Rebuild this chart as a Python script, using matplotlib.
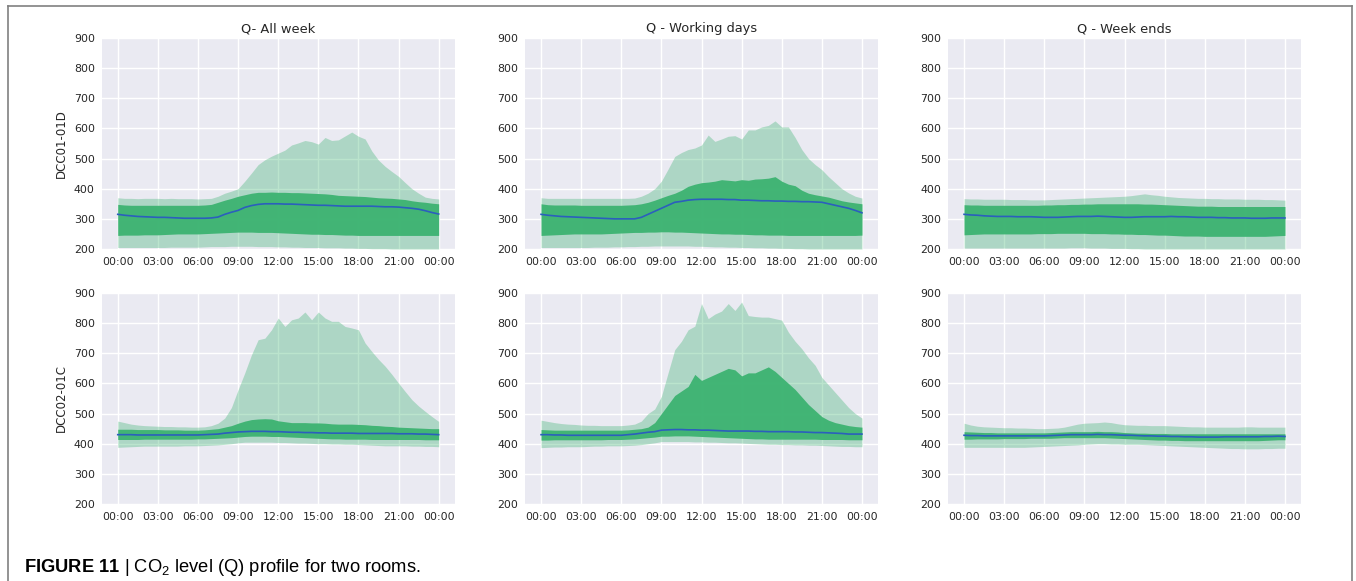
import numpy as np
import matplotlib
matplotlib.use("Agg")
import matplotlib.pyplot as plt
from matplotlib.lines import Line2D

# ---------------------------------------------------------------- data
# half-hourly time of day (hours), 00:00 .. 24:00
hours = np.arange(0, 24.01, 0.5)

rooms = ["DCC01-01D", "DCC02-01C"]
periods = ["Q- All week", "Q - Working days", "Q - Week ends"]
x_ticks = [0, 3, 6, 9, 12, 15, 18, 21, 24]
x_tick_labels = ["00:00", "03:00", "06:00", "09:00", "12:00",
                 "15:00", "18:00", "21:00", "00:00"]
y_ticks = [200, 300, 400, 500, 600, 700, 800, 900]

# DCC01-01D, all week
d01_all_outer_hi = [370, 368, 368, 367, 368, 368, 368, 367, 368, 367,
                    367, 367, 366, 367, 368, 375, 385, 392, 400, 425,
                    452, 480, 496, 508, 518, 528, 545, 552, 560, 556,
                    548, 570, 560, 562, 575, 588, 574, 565, 525, 495,
                    474, 457, 441, 420, 400, 385, 372, 368, 366]
d01_all_inner_hi = [348, 346, 345, 345, 345, 345, 345, 345, 345, 345,
                    345, 345, 345, 346, 348, 355, 362, 368, 375, 380,
                    385, 388, 388, 389, 388, 388, 387, 387, 386, 385,
                    384, 383, 381, 378, 377, 376, 375, 374, 372, 370,
                    369, 368, 366, 364, 360, 357, 355, 352, 350]
d01_all_median = [315, 312, 310, 308, 307, 306, 305, 305, 304, 303,
                  302, 302, 302, 302, 303, 306, 315, 322, 328, 338,
                  344, 348, 350, 350, 350, 349, 349, 348, 347, 346,
                  345, 345, 344, 343, 342, 342, 342, 342, 342, 341,
                  340, 340, 339, 337, 335, 332, 327, 321, 316]
d01_all_inner_lo = [245, 246, 246, 246, 247, 247, 247, 248, 249, 250,
                    250, 250, 250, 251, 252, 253, 254, 255, 256, 256,
                    256, 255, 255, 255, 254, 253, 252, 251, 250, 249,
                    249, 248, 248, 247, 246, 246, 245, 245, 245, 245,
                    245, 245, 245, 245, 245, 245, 245, 245, 245]
d01_all_outer_lo = [205, 205, 205, 205, 205, 205, 205, 205, 206, 206,
                    206, 206, 206, 207, 208, 208, 208, 209, 209, 209,
                    209, 208, 208, 208, 207, 207, 206, 206, 205, 205,
                    205, 204, 204, 204, 203, 203, 202, 202, 201, 201,
                    201, 200, 200, 200, 200, 200, 200, 200, 200]

# DCC01-01D, working days
d01_work_outer_hi = [370, 368, 368, 368, 368, 368, 368, 368, 368, 368,
                     368, 368, 368, 368, 369, 375, 385, 400, 425, 465,
                     507, 520, 530, 535, 545, 578, 557, 565, 574, 576,
                     565, 595, 595, 605, 610, 625, 605, 605, 570, 530,
                     500, 480, 463, 440, 420, 400, 386, 375, 369]
d01_work_inner_hi = [350, 347, 346, 346, 346, 346, 345, 345, 345, 345,
                     345, 345, 345, 346, 347, 350, 355, 362, 370, 378,
                     385, 395, 408, 415, 420, 422, 425, 430, 428, 426,
                     430, 428, 432, 433, 435, 440, 425, 415, 410, 395,
                     385, 380, 376, 372, 366, 360, 356, 353, 350]
d01_work_median = [315, 312, 310, 308, 307, 306, 305, 304, 303, 302,
                   301, 300, 300, 300, 300, 305, 315, 325, 335, 345,
                   355, 358, 362, 364, 365, 365, 365, 365, 364, 364,
                   362, 362, 361, 360, 360, 359, 359, 358, 358, 357,
                   357, 356, 355, 350, 345, 340, 335, 328, 320]
d01_work_inner_lo = [245, 246, 247, 248, 249, 250, 250, 250, 250, 250,
                     251, 252, 253, 254, 255, 255, 256, 256, 257, 257,
                     256, 256, 255, 254, 253, 252, 251, 250, 250, 249,
                     249, 248, 247, 247, 246, 246, 246, 245, 245, 245,
                     245, 245, 245, 245, 245, 245, 245, 245, 246]
d01_work_outer_lo = [205, 205, 205, 205, 205, 205, 205, 205, 206, 206,
                     206, 207, 207, 208, 208, 209, 209, 210, 210, 210,
                     210, 210, 210, 209, 209, 208, 207, 207, 206, 206,
                     205, 205, 204, 204, 203, 203, 202, 202, 201, 201,
                     200, 200, 200, 200, 200, 200, 200, 200, 200]

# DCC01-01D, week ends
d01_wend_outer_hi = [367, 366, 366, 365, 365, 365, 365, 364, 364, 364,
                     363, 363, 363, 364, 365, 366, 367, 368, 369, 370,
                     371, 372, 373, 374, 375, 377, 380, 383, 380, 378,
                     375, 373, 371, 370, 369, 368, 368, 367, 367, 366,
                     366, 366, 365, 365, 365, 364, 364, 363, 362]
d01_wend_inner_hi = [347, 346, 346, 345, 345, 345, 345, 345, 345, 345,
                     345, 345, 346, 346, 347, 347, 348, 348, 349, 349,
                     350, 350, 350, 350, 350, 350, 350, 349, 349, 348,
                     347, 346, 345, 344, 343, 342, 342, 342, 341, 341,
                     341, 341, 341, 341, 341, 341, 341, 341, 341]
d01_wend_median = [315, 313, 312, 310, 309, 308, 308, 308, 307, 307,
                   307, 306, 305, 305, 305, 306, 307, 308, 308, 308,
                   309, 308, 307, 306, 305, 305, 306, 307, 307, 307,
                   307, 308, 307, 307, 306, 305, 305, 305, 304, 304,
                   303, 303, 303, 302, 302, 302, 303, 303, 303]
d01_wend_inner_lo = [247, 248, 249, 250, 250, 250, 250, 250, 250, 250,
                     250, 251, 251, 251, 252, 252, 252, 252, 252, 251,
                     251, 251, 250, 250, 249, 249, 248, 248, 247, 246,
                     246, 245, 244, 243, 243, 243, 242, 242, 242, 242,
                     242, 242, 242, 242, 242, 242, 243, 244, 245]
d01_wend_outer_lo = [203, 203, 203, 203, 203, 203, 203, 203, 203, 203,
                     203, 203, 203, 203, 203, 203, 204, 204, 204, 203,
                     203, 203, 202, 202, 202, 201, 201, 200, 200, 200,
                     200, 200, 200, 200, 200, 200, 200, 200, 200, 200,
                     200, 200, 200, 200, 200, 200, 200, 200, 200]

# DCC02-01C, all week
d02_all_outer_hi = [475, 470, 465, 462, 460, 459, 458, 457, 457, 456,
                    456, 455, 455, 456, 460, 468, 485, 520, 579, 635,
                    695, 745, 750, 778, 817, 789, 811, 817, 837, 811,
                    837, 817, 806, 806, 789, 784, 778, 734, 706, 680,
                    657, 630, 601, 573, 546, 525, 507, 490, 474]
d02_all_inner_hi = [448, 448, 448, 447, 447, 447, 447, 446, 446, 446,
                    445, 445, 445, 446, 448, 450, 455, 460, 468, 475,
                    480, 482, 483, 482, 476, 473, 470, 470, 470, 469,
                    469, 468, 466, 465, 465, 465, 464, 463, 461, 460,
                    458, 457, 455, 454, 453, 452, 451, 450, 450]
d02_all_median = [430, 430, 430, 429, 429, 429, 429, 429, 429, 429,
                  429, 429, 429, 430, 431, 432, 435, 437, 439, 440,
                  441, 441, 441, 440, 440, 439, 438, 438, 437, 437,
                  436, 436, 435, 435, 435, 435, 434, 434, 434, 434,
                  434, 434, 433, 433, 433, 432, 432, 431, 430]
d02_all_inner_lo = [414, 414, 414, 414, 415, 415, 415, 415, 415, 415,
                    415, 415, 416, 416, 417, 418, 419, 420, 422, 424,
                    425, 425, 425, 424, 424, 423, 422, 421, 420, 419,
                    418, 417, 416, 416, 415, 415, 415, 415, 414, 414,
                    414, 414, 414, 414, 414, 414, 413, 413, 413]
d02_all_outer_lo = [388, 389, 390, 391, 392, 392, 392, 392, 392, 392,
                    393, 393, 393, 394, 395, 396, 398, 400, 403, 405,
                    405, 405, 405, 405, 404, 404, 403, 402, 402, 401,
                    400, 400, 399, 399, 398, 398, 397, 396, 395, 394,
                    393, 393, 393, 393, 392, 392, 391, 391, 390]

# DCC02-01C, working days
d02_work_outer_hi = [478, 474, 470, 467, 465, 464, 462, 461, 461, 460,
                     460, 460, 460, 462, 465, 475, 500, 515, 557, 635,
                     712, 740, 778, 790, 865, 815, 830, 840, 865, 842,
                     870, 825, 822, 820, 820, 815, 810, 770, 740, 715,
                     685, 660, 620, 595, 570, 545, 520, 500, 485]
d02_work_inner_hi = [447, 446, 445, 445, 445, 445, 445, 445, 445, 445,
                     445, 445, 445, 446, 448, 450, 455, 470, 500, 530,
                     560, 575, 590, 630, 610, 620, 630, 640, 650, 645,
                     625, 635, 635, 645, 655, 640, 620, 600, 580, 555,
                     530, 510, 490, 478, 470, 465, 460, 457, 455]
d02_work_median = [430, 430, 429, 429, 428, 428, 428, 428, 428, 428,
                   428, 428, 428, 430, 432, 435, 438, 440, 445, 446,
                   447, 447, 446, 446, 445, 445, 444, 443, 442, 442,
                   442, 442, 441, 441, 440, 440, 440, 440, 439, 439,
                   438, 437, 437, 436, 435, 434, 432, 432, 432]
d02_work_inner_lo = [412, 412, 413, 413, 413, 413, 413, 413, 413, 413,
                     414, 414, 414, 415, 416, 418, 420, 422, 425, 425,
                     426, 426, 426, 425, 424, 423, 422, 421, 420, 419,
                     418, 417, 416, 416, 415, 415, 415, 415, 415, 415,
                     415, 415, 414, 414, 414, 414, 413, 413, 413]
d02_work_outer_lo = [387, 388, 389, 389, 390, 390, 390, 391, 392, 392,
                     393, 393, 393, 394, 395, 397, 400, 403, 407, 407,
                     407, 407, 407, 406, 406, 405, 405, 404, 403, 403,
                     402, 401, 400, 399, 398, 398, 397, 397, 396, 396,
                     395, 395, 394, 393, 392, 391, 391, 390, 390]

# DCC02-01C, week ends
d02_wend_outer_hi = [468, 462, 458, 456, 455, 454, 453, 453, 452, 452,
                     451, 450, 450, 451, 452, 455, 460, 465, 468, 469,
                     470, 472, 470, 466, 463, 462, 461, 461, 460, 460,
                     460, 459, 458, 457, 456, 456, 455, 455, 455, 455,
                     455, 455, 456, 456, 455, 455, 455, 455, 455]
d02_wend_inner_hi = [440, 439, 438, 437, 437, 436, 436, 436, 436, 436,
                     436, 436, 436, 437, 438, 439, 440, 440, 440, 440,
                     441, 440, 440, 439, 437, 436, 435, 435, 434, 434,
                     434, 433, 433, 433, 433, 433, 433, 433, 433, 433,
                     433, 433, 433, 433, 433, 433, 433, 433, 433]
d02_wend_median = [428, 427, 427, 426, 426, 426, 426, 426, 426, 426,
                   426, 426, 426, 427, 428, 429, 430, 430, 430, 430,
                   431, 430, 430, 429, 428, 428, 427, 426, 426, 425,
                   425, 424, 424, 423, 423, 422, 422, 422, 422, 423,
                   423, 423, 423, 423, 423, 424, 424, 425, 424]
d02_wend_inner_lo = [415, 415, 416, 416, 416, 416, 417, 417, 417, 417,
                     418, 418, 418, 418, 419, 420, 420, 420, 420, 420,
                     420, 420, 419, 418, 417, 416, 415, 414, 413, 412,
                     412, 411, 411, 410, 410, 410, 410, 410, 410, 410,
                     410, 410, 410, 410, 410, 411, 412, 413, 413]
d02_wend_outer_lo = [388, 388, 388, 388, 388, 388, 388, 388, 388, 388,
                     389, 390, 391, 392, 393, 394, 395, 396, 398, 399,
                     400, 400, 399, 399, 398, 398, 398, 397, 396, 395,
                     394, 393, 392, 391, 390, 389, 388, 387, 386, 385,
                     384, 384, 383, 383, 383, 384, 384, 385, 385]

# one row per room, one column per period
panels = [
    [(d01_all_outer_lo, d01_all_inner_lo, d01_all_median, d01_all_inner_hi, d01_all_outer_hi),
     (d01_work_outer_lo, d01_work_inner_lo, d01_work_median, d01_work_inner_hi, d01_work_outer_hi),
     (d01_wend_outer_lo, d01_wend_inner_lo, d01_wend_median, d01_wend_inner_hi, d01_wend_outer_hi)],
    [(d02_all_outer_lo, d02_all_inner_lo, d02_all_median, d02_all_inner_hi, d02_all_outer_hi),
     (d02_work_outer_lo, d02_work_inner_lo, d02_work_median, d02_work_inner_hi, d02_work_outer_hi),
     (d02_wend_outer_lo, d02_wend_inner_lo, d02_wend_median, d02_wend_inner_hi, d02_wend_outer_hi)],
]

# ---------------------------------------------------------------- style
plt.rcParams["font.family"] = ["DejaVu Sans"]
plt.rcParams["mathtext.fontset"] = "custom"
plt.rcParams["mathtext.rm"] = "Liberation Sans"
plt.rcParams["mathtext.it"] = "Liberation Sans:italic"
plt.rcParams["mathtext.bf"] = "Liberation Sans:bold"

BG = "#EAEAF2"
TXT = "#262626"
OUTER = "#3CB371"
INNER = "#3CB371"
LINE = "#2B5FBD"

W, H = 1356, 581
fig = plt.figure(figsize=(W / 100, H / 100), dpi=100)

col_left = [101.7, 525.0, 948.0]
row_top = [38.0, 293.0]
ax_w, ax_h = 353.0, 211.0

for r in range(2):
    for c in range(3):
        left = col_left[c] / W
        bottom = (H - row_top[r] - ax_h) / H
        ax = fig.add_axes([left, bottom, ax_w / W, ax_h / H])
        ax.set_facecolor(BG)
        for s in ax.spines.values():
            s.set_visible(False)
        ax.grid(True, color="white", linewidth=1.0)
        ax.set_axisbelow(True)

        lo2, lo1, med, hi1, hi2 = panels[r][c]
        ax.fill_between(hours, lo2, hi2, color=OUTER, alpha=0.35,
                        linewidth=0)
        ax.fill_between(hours, lo1, hi1, color=INNER, alpha=0.95,
                        linewidth=0)
        ax.plot(hours, med, color=LINE, linewidth=1.2)

        ax.set_ylim(200, 900)
        ax.set_yticks(y_ticks)
        ax.set_xticks(x_ticks)
        ax.set_xticklabels(x_tick_labels)
        ax.margins(x=0.05)
        ax.tick_params(axis="both", length=0, labelsize=7.9,
                       labelcolor=TXT)
        ax.tick_params(axis="x", pad=5.5)
        ax.tick_params(axis="y", pad=5.0)

        if r == 0:
            ax.set_title(periods[c], fontsize=9.4, color=TXT, pad=4)
        if c == 0:
            ax.set_ylabel(rooms[r], fontsize=8.5, color=TXT, labelpad=4)

# page frame
frame = dict(color="#808080", linewidth=1.2, transform=fig.transFigure)
fig.add_artist(Line2D([8 / W, 1352 / W], [1 - 6 / H, 1 - 6 / H], **frame))
fig.add_artist(Line2D([8 / W, 8 / W], [0, 1 - 6 / H], **frame))
fig.add_artist(Line2D([1352 / W, 1352 / W], [0, 1 - 6 / H], **frame))

fig.text(24 / W, 9.5 / H,
         r"$\mathbf{FIGURE\ 11}$ | CO$_{2}$ level (Q) profile for two rooms.",
         family="Liberation Sans", fontsize=13.2, color="black",
         va="baseline", ha="left")

fig.savefig("out.png", dpi=100, facecolor="white")
